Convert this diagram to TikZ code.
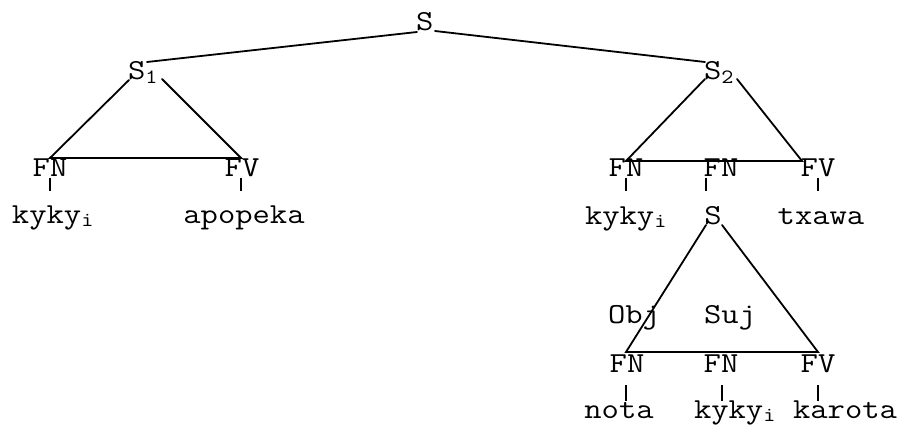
\documentclass[tikz,border=0pt]{standalone}
\usepackage{fontspec}
% typewriter letters, widened a little to the Courier advance
\newcommand{\tw}[1]{\scalebox{1.16}[1]{#1}}
\begin{document}
\begin{tikzpicture}[x=1pt,y=-1pt,
  lbl/.style={inner sep=0pt,outer sep=0pt,anchor=base,font=\fontsize{29}{32}\ttfamily},
  lblw/.style={lbl,anchor=base west},
  branch/.style={line width=1.8pt,line cap=round}]
\useasboundingbox (0,0) rectangle (900,426);

% --- labels ---
\node[lblw] (s)    at (416,30)  {\tw{S}};
\node[lblw] (s1)   at (128,79)  {\tw{S\textsubscript{1}}};
\node[lblw] (s2)   at (704,79)  {\tw{S\textsubscript{2}}};

\node[lbl]  (fnA)  at (50,176)  {\tw{FN}};
\node[lbl]  (fvA)  at (242,176) {\tw{FV}};
\node[lblw] (wA)   at (12,223)  {\tw{kyky\textsubscript{i}}};
\node[lbl]  (wB)   at (244,223) {\tw{apopeka}};

\node[lbl]  (fnB)  at (626,176) {\tw{FN}};
\node[lbl]  (fnC)  at (721,176) {\tw{FN}};
\node[lbl]  (fvB)  at (818,176) {\tw{FV}};
\node[lblw] (wC)   at (585,224) {\tw{kyky\textsubscript{i}}};
\node[lbl]  (s3)   at (713,224) {\tw{S}};
\node[lbl]  (wD)   at (821,224) {\tw{txawa}};

\node[lbl]  (obj)  at (634,323) {\tw{Obj}};
\node[lbl]  (suj)  at (730,323) {\tw{Suj}};
\node[lbl]  (fnD)  at (627,372) {\tw{FN}};
\node[lbl]  (fnE)  at (721,372) {\tw{FN}};
\node[lbl]  (fvC)  at (818,372) {\tw{FV}};
\node[lbl]  (wE)   at (619,418) {\tw{nota}};
\node[lblw] (wF)   at (694,418) {\tw{kyky\textsubscript{i}}};
\node[lbl]  (wG)   at (845,418) {\tw{karota}};

% --- branch end points ---
\coordinate (sL) at (417,32);   \coordinate (sR) at (435,31);
\coordinate (s1T) at (147,62);  \coordinate (s2T) at (705,62);
\coordinate (s1L) at (129,80);  \coordinate (s1R) at (162,79);
\coordinate (aL) at (50,158);   \coordinate (aR) at (241,158);
\coordinate (s2L) at (705,79);  \coordinate (s2R) at (737,79);
\coordinate (bL) at (626,161);  \coordinate (bR) at (802,161);
\coordinate (s3L) at (706,225); \coordinate (s3R) at (722,225);
\coordinate (cL) at (626,352);  \coordinate (cR) at (818,352);

\draw[branch] (sL) -- (s1T);
\draw[branch] (sR) -- (s2T);
\draw[branch] (s1L) -- (aL) -- (aR) -- (s1R);
\draw[branch] (s2L) -- (bL) -- (bR) -- (s2R);
\draw[branch] (s3L) -- (cL) -- (cR) -- (s3R);

% --- short stems to the words ---
\foreach \x/\a/\b in {50/178/191, 241/178/191, 626/178/191, 706/178/191, 818/178/191,
                      626/385/401, 722/385/401, 818/385/401}
  \draw[branch,line cap=butt] (\x,\a) -- (\x,\b);
\end{tikzpicture}
\end{document}
